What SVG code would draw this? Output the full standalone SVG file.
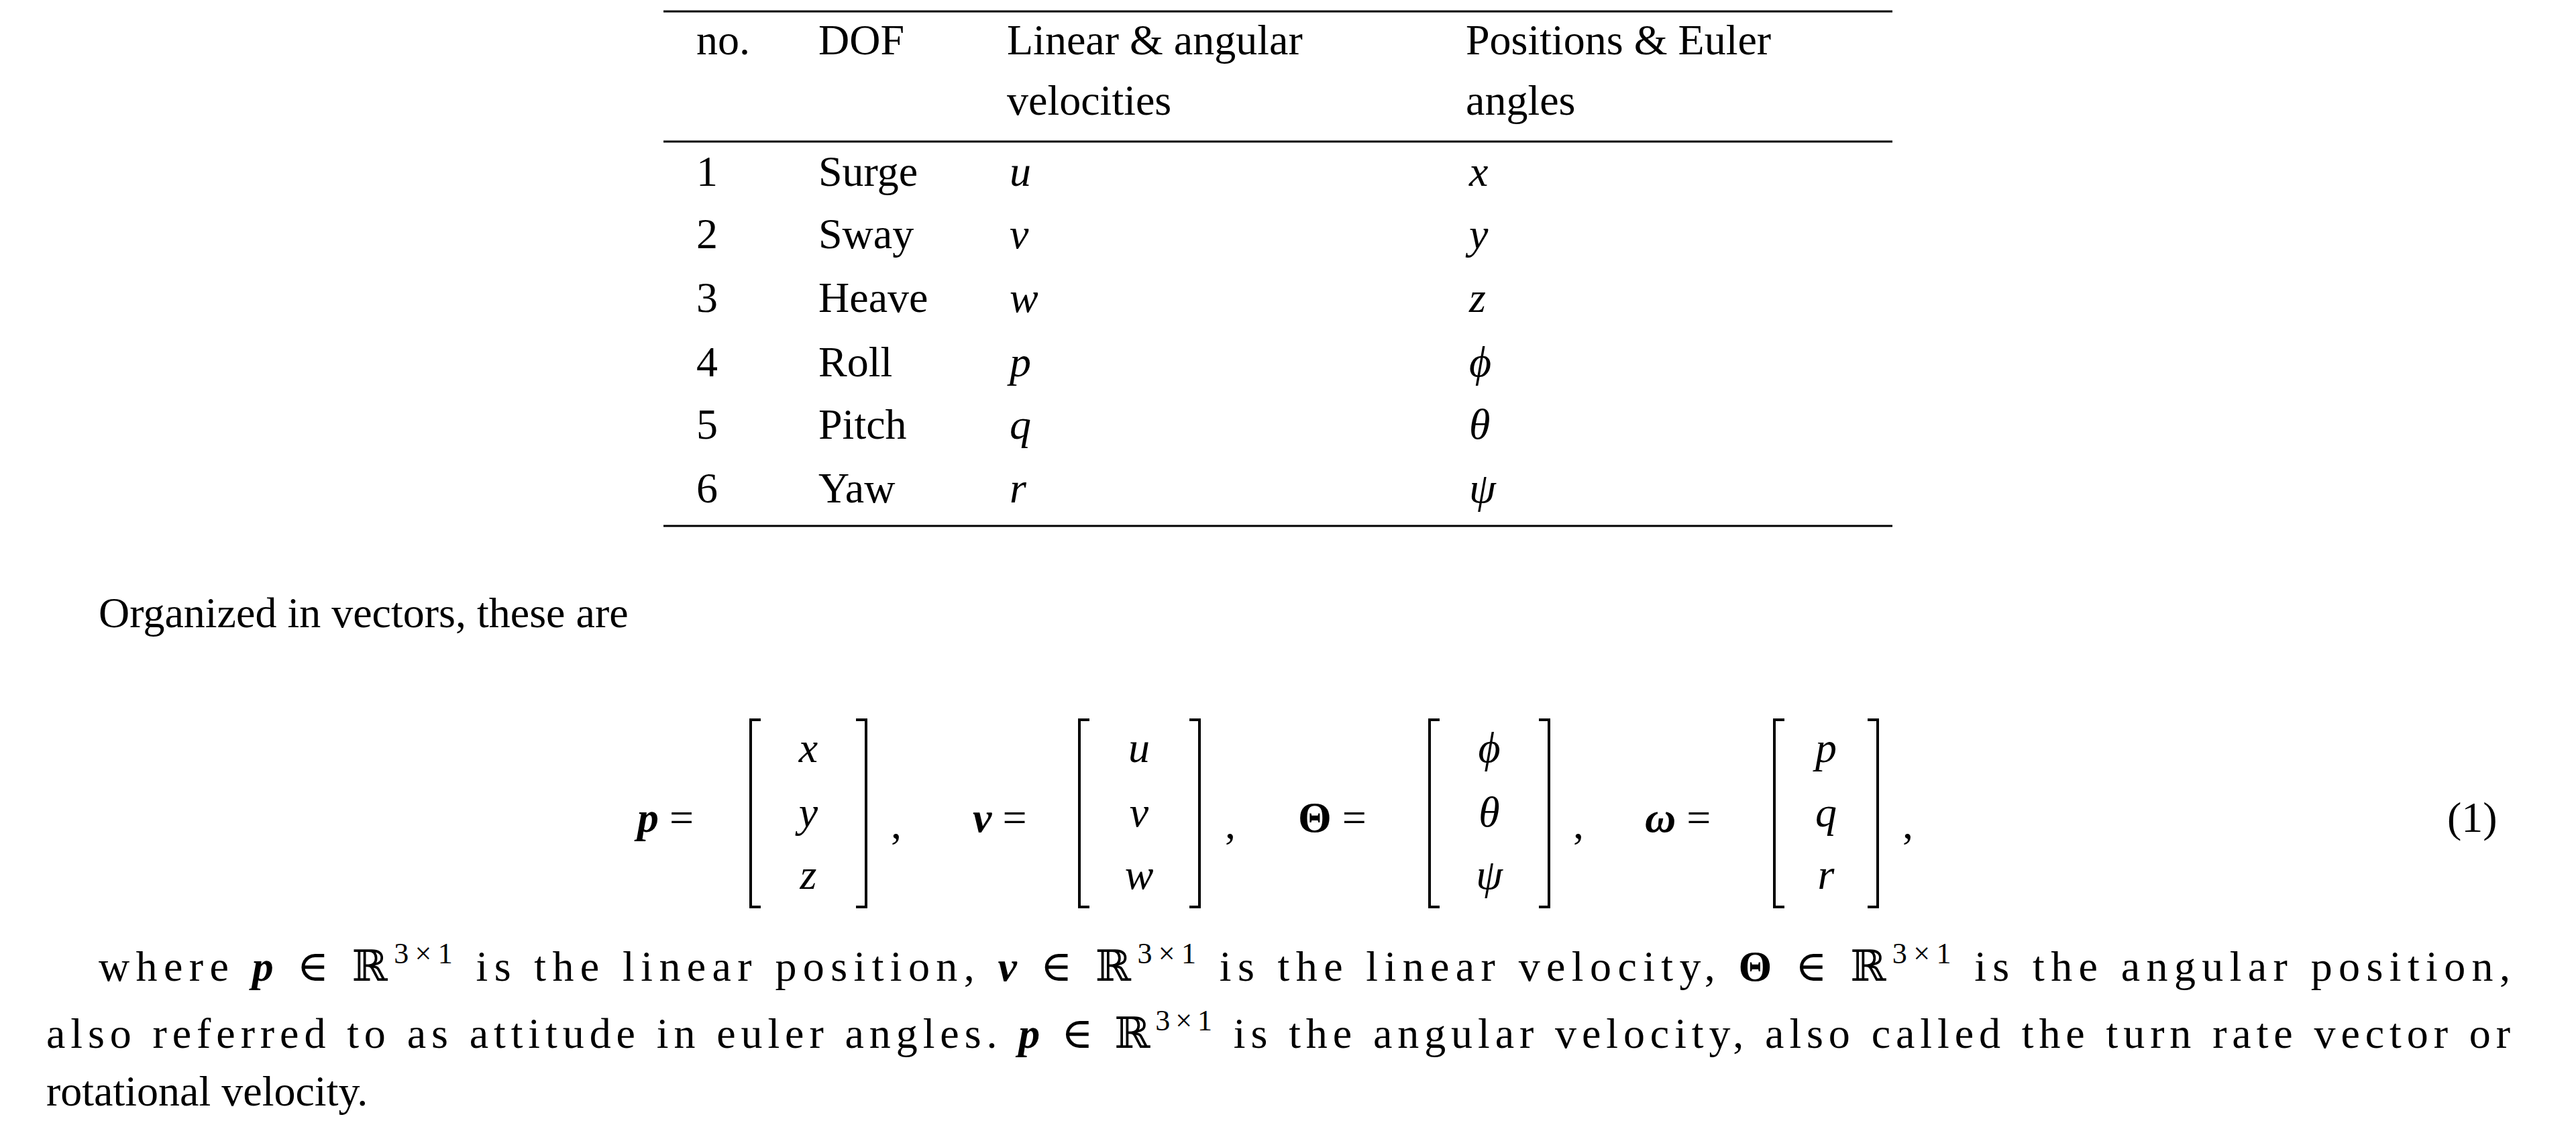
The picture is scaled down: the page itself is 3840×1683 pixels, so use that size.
<svg xmlns="http://www.w3.org/2000/svg" width="3840" height="1683" viewBox="0 0 3840 1683">
<style>
text{font-family:"Liberation Serif","DejaVu Serif",serif;font-size:64px;fill:#000}
.i{font-style:italic}
.b{font-weight:bold}
.m{text-anchor:middle}
.r{stroke:#000;stroke-width:3}
.br{fill:none;stroke:#000;stroke-width:4}
</style>
<rect width="3840" height="1683" fill="#fff"/>
<g id="table">
<line class="r" x1="989" y1="17" x2="2821" y2="17"/>
<line class="r" x1="989" y1="211" x2="2821" y2="211"/>
<line class="r" x1="989" y1="784" x2="2821" y2="784"/>
<text x="1038" y="81">no.</text>
<text x="1220" y="81">DOF</text>
<text x="1501" y="81">Linear &amp; angular</text>
<text x="1501" y="171">velocities</text>
<text x="2185" y="81">Positions &amp; Euler</text>
<text x="2185" y="171">angles</text>
<g><text x="1038" y="277">1</text><text x="1220" y="277">Surge</text><text class="i" x="1505" y="277">u</text><text class="i" x="2190" y="277">x</text></g>
<g><text x="1038" y="370">2</text><text x="1220" y="370">Sway</text><text class="i" x="1505" y="370">v</text><text class="i" x="2190" y="370">y</text></g>
<g><text x="1038" y="465">3</text><text x="1220" y="465">Heave</text><text class="i" x="1505" y="465">w</text><text class="i" x="2190" y="465">z</text></g>
<g><text x="1038" y="561">4</text><text x="1220" y="561">Roll</text><text class="i" x="1505" y="561">p</text><text class="i" x="2190" y="561">ϕ</text></g>
<g><text x="1038" y="654">5</text><text x="1220" y="654">Pitch</text><text class="i" x="1505" y="654">q</text><text class="i" x="2190" y="654">θ</text></g>
<g><text x="1038" y="749">6</text><text x="1220" y="749">Yaw</text><text class="i" x="1505" y="749">r</text><text class="i" x="2190" y="749">ψ</text></g>
</g>
<text x="147" y="935">Organized in vectors, these are</text>
<g id="equation">
<text x="950" y="1240"><tspan class="b i">p</tspan> =</text>
<path class="br" d="M1134,1073 H1119 V1352 H1134 M1276,1073 H1291 V1352 H1276"/>
<text class="i m" x="1205" y="1136">x</text><text class="i m" x="1205" y="1232">y</text><text class="i m" x="1205" y="1325">z</text>
<text x="1328" y="1250">,</text>
<text x="1450" y="1240"><tspan class="b i">v</tspan> =</text>
<path class="br" d="M1624,1073 H1609 V1352 H1624 M1773,1073 H1788 V1352 H1773"/>
<text class="i m" x="1698" y="1136">u</text><text class="i m" x="1698" y="1232">v</text><text class="i m" x="1698" y="1325">w</text>
<text x="1826" y="1250">,</text>
<text x="1935" y="1240"><tspan class="b">Θ</tspan> =</text>
<path class="br" d="M2146,1073 H2131 V1352 H2146 M2294,1073 H2309 V1352 H2294"/>
<text class="i m" x="2220" y="1136">ϕ</text><text class="i m" x="2220" y="1232">θ</text><text class="i m" x="2220" y="1325">ψ</text>
<text x="2345" y="1250">,</text>
<text x="2452" y="1240"><tspan class="b i">ω</tspan> =</text>
<path class="br" d="M2660,1073 H2645 V1352 H2660 M2784,1073 H2799 V1352 H2784"/>
<text class="i m" x="2722" y="1136">p</text><text class="i m" x="2722" y="1232">q</text><text class="i m" x="2722" y="1325">r</text>
<text x="2836" y="1250">,</text>
<text x="3648" y="1240">(1)</text>
</g>
<g id="paragraph">
<text x="147" y="1462" textLength="3595" lengthAdjust="spacing">where <tspan class="b i">p</tspan> ∈ ℝ<tspan font-size="44" dy="-26">3×1</tspan><tspan dy="26"> is the linear position, </tspan><tspan class="b i">v</tspan> ∈ ℝ<tspan font-size="44" dy="-26">3×1</tspan><tspan dy="26"> is the linear velocity, </tspan><tspan class="b">Θ</tspan> ∈ ℝ<tspan font-size="44" dy="-26">3×1</tspan><tspan dy="26"> is the angular position,</tspan></text>
<text x="69" y="1562" textLength="3673" lengthAdjust="spacing">also referred to as attitude in euler angles. <tspan class="b i">p</tspan> ∈ ℝ<tspan font-size="44" dy="-26">3×1</tspan><tspan dy="26"> is the angular velocity, also called the turn rate vector or</tspan></text>
<text x="69" y="1648">rotational velocity.</text>
</g>
</svg>
